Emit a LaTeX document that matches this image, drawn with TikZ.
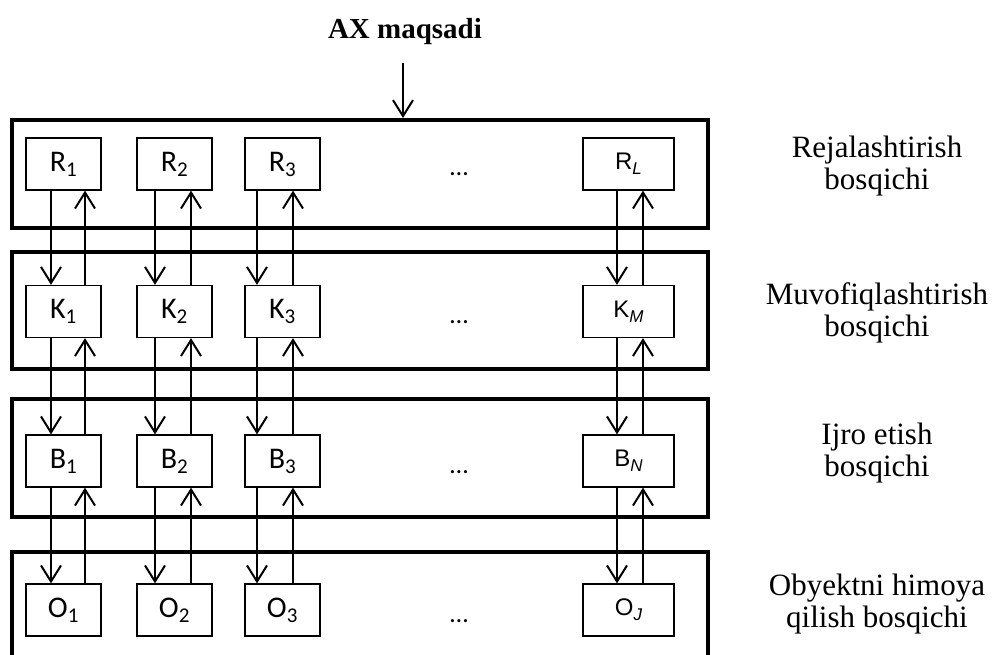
\documentclass[tikz,border=0pt]{standalone}
\usepackage{fontspec}
\setmainfont{Liberation Serif}
\newfontfamily\boxfont{Carlito}
\newfontfamily\arialfont{Liberation Sans}
\usetikzlibrary{arrows.meta}
\newcommand\lastsub[1]{\raisebox{-0.2em}{\fontsize{17}{17}\selectfont\itshape #1}}
\begin{document}
\begin{tikzpicture}[x=1pt,y=-1pt,
  band/.style={draw, line width=4.5pt},
  cell/.style={draw, line width=1.3pt, minimum width=75pt, minimum height=52pt, inner sep=0pt, font=\boxfont\fontsize{30}{34}\selectfont},
  lastcell/.style={cell, minimum width=91pt, font=\arialfont\fontsize{24}{28}\selectfont},
  link/.style={line width=2pt, -{Straight Barb[length=16pt,width=20pt,line width=2pt]}},
  stage/.style={align=center, font=\fontsize{31}{32}\selectfont},
  dots/.style={anchor=base, font=\boxfont\fontsize{26}{30}\selectfont},
]
\clip (0,0) rectangle (999,655);
\fill[white] (0,0) rectangle (999,655);

% bands
\draw[band] (12,120) rectangle (708,228);
\draw[band] (12,252) rectangle (708,369);
\draw[band] (12,399) rectangle (708,517);
\draw[band] (12,552) rectangle (708,720);

% title and goal arrow
\node[font=\bfseries\fontsize{29}{32}\selectfont] (title) at (405,32) {AX maqsadi};
\coordinate (goalstart) at (403,63);
\coordinate (goalend) at (403,118);
\draw[link] (goalstart) -- (goalend);

% cells
\foreach \r/\y/\L in {r/164/R, k/311.5/K, b/461/B, o/610/O}{
  \node[cell] (\r1) at (63.5,\y) {\L\textsubscript{1}};
  \node[cell] (\r2) at (174.5,\y) {\L\textsubscript{2}};
  \node[cell] (\r3) at (282.5,\y) {\L\textsubscript{3}};
  \node[dots] (\r dots) at (459,\y+12) {…};
}
\node[lastcell] (r4) at (628.5,164) {R\lastsub{L}};
\node[lastcell] (k4) at (628.5,311.5) {K\lastsub{M}};
\node[lastcell] (b4) at (628.5,461) {B\lastsub{N}};
\node[lastcell] (o4) at (628.5,610) {O\lastsub{J}};

% connectors
\foreach \c/\dx/\ux in {1/51/85, 2/155/191, 3/257/293, 4/617/643}{
  \coordinate (dn\c) at (\dx,0);
  \coordinate (up\c) at (\ux,0);
  \foreach \a/\b in {r/k, k/b, b/o}{
    \draw[link] (dn\c |- \a\c.south) -- (dn\c |- \b\c.north);
    \draw[link] (up\c |- \b\c.north) -- (up\c |- \a\c.south);
  }
}

% stage labels
\node[stage] (s1) at (877,166) {Rejalashtirish\\bosqichi};
\node[stage] (s2) at (877,312.5) {Muvofiqlashtirish\\bosqichi};
\node[stage] (s3) at (877,453.5) {Ijro etish\\bosqichi};
\node[stage] (s4) at (877,604) {Obyektni himoya\\qilish bosqichi};
\end{tikzpicture}
\end{document}
